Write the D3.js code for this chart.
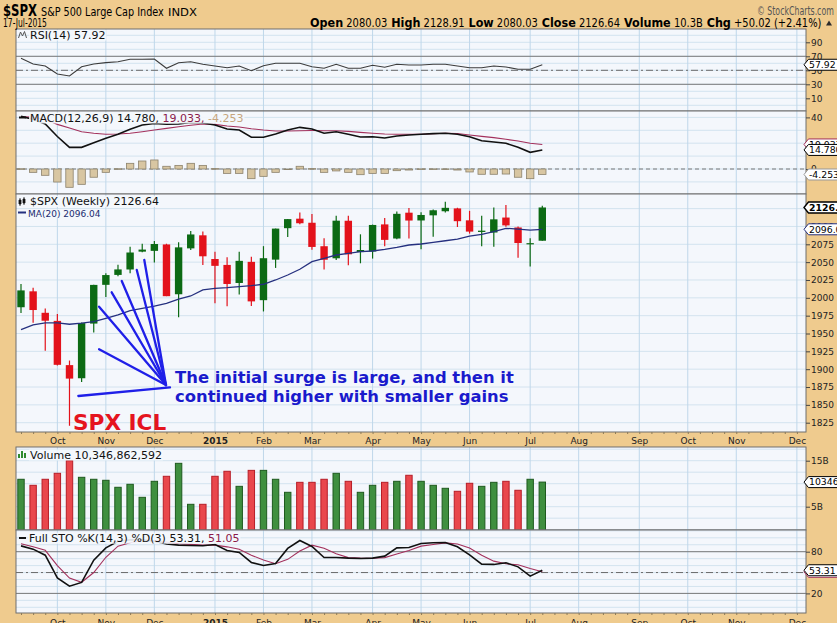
<!DOCTYPE html>
<html>
<head>
<meta charset="utf-8">
<script src="https://cdn.jsdelivr.net/npm/d3@7/dist/d3.min.js"></script>
<style>
html,body{margin:0;padding:0;background:#EFCB8E;}
svg{display:block;}
text{font-family:"DejaVu Sans",Verdana,sans-serif;}
</style>
</head>
<body>
<svg id="chart" width="837" height="623"></svg>
<script>
// ---------------- DATA (weekly, $SPX) ----------------
const weekEnding = ["2014-09-19","2014-09-26","2014-10-03","2014-10-10","2014-10-17","2014-10-24","2014-10-31","2014-11-07","2014-11-14","2014-11-21","2014-11-28","2014-12-05","2014-12-12","2014-12-19","2014-12-26","2015-01-02","2015-01-09","2015-01-16","2015-01-23","2015-01-30","2015-02-06","2015-02-13","2015-02-20","2015-02-27","2015-03-06","2015-03-13","2015-03-20","2015-03-27","2015-04-02","2015-04-10","2015-04-17","2015-04-24","2015-05-01","2015-05-08","2015-05-15","2015-05-22","2015-05-29","2015-06-05","2015-06-12","2015-06-19","2015-06-26","2015-07-02","2015-07-10","2015-07-17"];
const openPx  = [1986.8,2009.1,1979.0,1967.7,1905.7,1887.3,1963.9,2018.2,2032.1,2039.7,2064.7,2065.8,2074.8,2005.0,2069.3,2087.6,2054.4,2046.1,2020.8,2050.4,1996.7,2053.5,2097.6,2110.9,2105.2,2072.3,2055.4,2108.0,2064.1,2064.9,2102.9,2083.1,2119.3,2108.4,2115.6,2121.3,2125.3,2108.6,2092.3,2091.5,2112.5,2098.6,2075.0,2080.0];
const highPx  = [2019.3,2014.0,1985.2,1977.4,1912.1,1965.3,2018.2,2034.3,2046.2,2071.5,2075.8,2079.5,2075.8,2077.9,2093.6,2093.0,2064.4,2056.9,2064.6,2057.6,2072.4,2097.0,2110.6,2119.6,2117.5,2083.5,2114.9,2114.9,2089.0,2102.6,2111.9,2120.9,2125.9,2120.0,2123.9,2134.7,2126.2,2121.9,2115.0,2126.7,2130.0,2100.0,2083.4,2128.9];
const lowPx   = [1978.6,1965.0,1926.0,1905.0,1820.7,1882.0,1951.4,2001.0,2030.4,2034.5,2064.0,2049.6,2002.3,1972.6,2067.0,2046.0,1992.4,1988.1,2004.5,1988.5,1980.9,2041.9,2085.4,2103.0,2067.3,2039.7,2053.0,2045.8,2048.4,2055.0,2072.3,2082.0,2083.0,2067.9,2085.6,2119.5,2099.2,2090.0,2072.1,2071.6,2099.5,2056.3,2044.0,2080.0];
const closePx = [2010.4,1982.9,1967.9,1906.1,1886.8,1964.6,2018.1,2031.9,2039.8,2063.5,2067.6,2075.4,2002.3,2070.7,2088.8,2058.2,2044.8,2019.4,2051.8,1995.0,2055.5,2097.0,2110.3,2104.5,2071.3,2053.4,2108.1,2061.0,2067.0,2102.1,2081.2,2117.7,2108.3,2116.1,2122.7,2126.1,2107.4,2092.8,2094.1,2110.0,2101.5,2076.8,2076.6,2126.6];
const ma20    = [1955.5,1962.0,1965.0,1965.0,1963.0,1964.4,1966.5,1971.3,1976.0,1982.0,1985.3,1988.5,1992.3,1998.0,2002.6,2011.0,2013.3,2014.2,2015.6,2017.0,2019.0,2025.0,2032.0,2040.0,2050.6,2055.4,2060.0,2062.4,2064.6,2065.6,2068.0,2070.8,2074.0,2075.4,2077.8,2080.0,2082.4,2086.6,2089.0,2092.7,2097.4,2096.4,2095.0,2096.04];
const volumeB = [10.96,9.65,10.96,12.26,15.0,11.39,10.96,10.74,9.22,9.87,7.04,10.52,11.61,14.43,5.52,5.52,11.61,12.7,9.43,12.9,12.9,10.96,8.13,10.3,10.3,10.96,12.26,10.52,8.13,9.65,10.3,10.52,11.83,10.52,9.65,9.0,8.35,10.09,9.43,10.3,10.52,8.57,10.96,10.35];
const rsi14   = [67.1,59.0,56.1,44.7,41.9,55.1,59.0,60.9,62.3,65.7,65.7,66.1,52.9,60.9,62.3,58.6,56.1,53.7,56.1,49.4,56.6,60.0,60.0,60.0,55.1,52.9,58.6,52.9,52.9,57.1,54.3,58.6,57.6,57.6,58.6,58.6,56.1,53.7,53.7,56.1,54.7,51.4,51.4,57.92];
const macdLine   = [40.8,38.5,34.9,25.2,16.8,16.8,20.4,23.8,26.9,30.8,34.1,35.3,34.7,34.9,36.0,35.7,34.1,31.0,30.2,24.6,24.6,27.1,30.2,32.3,31.0,27.7,28.9,26.9,24.8,25.0,24.0,25.6,26.4,26.9,27.4,27.7,26.9,25.0,21.9,20.9,19.9,16.8,12.9,14.78];
const macdSignal = [40.5,40.2,38.5,34.6,31.8,28.9,27.7,26.9,27.1,27.7,28.9,30.2,31.5,32.8,33.9,34.9,34.6,33.3,32.6,31.2,30.2,29.5,29.5,29.7,29.8,29.7,29.7,29.2,28.4,27.7,27.1,26.9,26.9,26.9,27.3,27.7,27.5,26.4,25.3,24.3,23.0,21.7,19.9,19.033];
const macdHist   = [0.2,-2.6,-4.9,-10.1,-14.2,-11.9,-6.4,-2.6,0.2,4.4,6.2,7.0,2.1,2.8,4.4,2.8,0.3,-3.4,-3.4,-7.5,-5.7,-2.6,-0.3,2.1,0.3,-2.6,-1.5,-2.6,-4.4,-3.4,-3.4,-1.3,-0.8,0.1,0.1,0.1,-0.8,-2.3,-4.1,-4.1,-3.9,-6.4,-7.5,-4.253];
const stoK = [88.4,83.7,75.0,42.4,30.4,35.8,67.8,85.5,95.0,97.0,97.0,95.0,91.0,89.5,89.0,88.5,90.4,81.8,78.9,64.5,60.2,63.0,84.7,96.1,87.5,71.7,71.7,70.7,70.3,70.7,73.6,85.5,86.1,91.9,92.9,93.3,87.0,75.5,62.0,61.7,64.0,58.2,44.8,53.31];
const stoD = [91.5,87.0,82.0,60.0,42.0,36.0,50.0,72.0,88.0,93.0,96.0,96.0,94.0,91.5,90.5,89.5,89.5,87.0,83.5,75.0,68.0,62.6,69.0,81.0,89.4,85.0,77.0,71.5,70.8,70.5,71.5,76.6,81.7,88.0,90.3,92.7,91.1,85.3,74.8,66.4,62.6,61.3,55.7,51.05];

const monthLabels    = ["Oct","Nov","Dec","2015","Feb","Mar","Apr","May","Jun","Jul","Aug","Sep","Oct","Nov","Dec"];
const monthTickIndex = [3,7,11,16,20,24,29,33,37,42,46,51,55,59,64];
const rsiTicks   = [10,30,50,70,90];
const macdTicks  = [0,20,40];
const priceTicks = [1825,1850,1875,1900,1925,1950,1975,2000,2025,2050,2075,2100,2125];
const volTicks   = [5,10,15];
const stoTicks   = [20,50,80];

// annotation (in week-index / price space)
const annoHub    = [11.96,1877.8];
const annoSpokes = [[6.44,1987.6],[7.48,2007.7],[8.31,2023.6],[9.55,2039.0],[10.17,2053.0],[6.44,1927.9]];
const annoBase   = [[4.73,1862.4],[12.29,1874.6]];
const annoText   = ["The initial surge is large, and then it","continued higher with smaller gains"];

// ---------------- LAYOUT ----------------
const W=837,H=623,L=16,R=806;
const BG="#EFCB8E", PANEL="#F4F7FC", GRID="#D3E3EF", VGRID="#BFD7EA", BORDER="#6f6f6f";
const UP="#0C6A14", DN="#E3121B";
const svg=d3.select("#chart");
svg.append("rect").attr("width",W).attr("height",H).attr("fill",BG);
const defs=svg.append("defs");

const x=d3.scaleLinear().domain([0,43]).range([21,542.3]);
const bw=7.4;
const idx=d3.range(weekEnding.length);

const yR=d3.scaleLinear().domain([10,90]).range([98.3,42.3]);
const yM=d3.scaleLinear().domain([0,40]).range([169,117.4]);
const yP=d3.scaleLinear().domain([1825,2075]).range([422.7,244.3]);
const yV=d3.scaleLinear().domain([0,15]).range([529.7,460.7]);
const yS=d3.scaleLinear().domain([20,80]).range([593.4,551.7]);

function panel(id,top,bottom,y,grid){
  const g=svg.append("g");
  g.append("rect").attr("x",L).attr("y",top).attr("width",R-L).attr("height",bottom-top).attr("fill",PANEL);
  defs.append("clipPath").attr("id","clip-"+id).append("rect").attr("x",L).attr("y",top).attr("width",R-L).attr("height",bottom-top);
  const inner=g.append("g").attr("clip-path",`url(#clip-${id})`);
  inner.selectAll(null).data(grid).join("line")
    .attr("x1",L).attr("x2",R).attr("y1",d=>y(d)).attr("y2",d=>y(d))
    .attr("stroke",GRID).attr("stroke-width",1);
  inner.selectAll(null).data(monthTickIndex).join("line")
    .attr("x1",d=>x(d)).attr("x2",d=>x(d)).attr("y1",top).attr("y2",bottom)
    .attr("stroke",VGRID).attr("stroke-width",1);
  return {g,inner,top,bottom,y};
}
function border(p){
  p.g.append("rect").attr("x",L).attr("y",p.top).attr("width",R-L).attr("height",p.bottom-p.top)
   .attr("fill","none").attr("stroke",BORDER).attr("stroke-width",1);
}
function hline(p,v,color,dash){
  p.inner.append("line").attr("x1",L).attr("x2",R).attr("y1",p.y(v)).attr("y2",p.y(v))
   .attr("stroke",color).attr("stroke-width",1).attr("stroke-dasharray",dash||null);
}
function rightAxis(p,ticks,fmt){
  const ax=d3.axisRight(p.y).tickValues(ticks).tickSize(4).tickPadding(1).tickFormat(fmt||(d=>d));
  const g=svg.append("g").attr("transform",`translate(${R},0)`).call(ax);
  g.select(".domain").remove();
  g.selectAll("line").attr("stroke","#444");
  g.selectAll("text").attr("font-size",9).attr("fill","#222").attr("font-family","DejaVu Sans");
}
function tag(y,txt,stroke,bold){
  const g=svg.append("g");
  g.append("path").attr("d",`M804,${y} L808.5,${y-5.5} L840,${y-5.5} L840,${y+5.5} L808.5,${y+5.5} Z`)
   .attr("fill","#fff").attr("stroke",stroke).attr("stroke-width",bold?1.4:1);
  g.append("text").attr("x",809).attr("y",y+3.3).attr("font-size",9.3).attr("font-weight",bold?"bold":"normal")
   .attr("fill","#000").text(txt);
}
function label(p,xx,yy,parts,size){
  const t=p.g.append("text").attr("x",xx).attr("y",yy).attr("font-size",size||11);
  parts.forEach(q=>t.append("tspan").attr("fill",q[1]).text(q[0]));
  const bb=t.node().getBBox();
  p.g.insert("rect",()=>t.node()).attr("x",bb.x-1).attr("y",bb.y+1).attr("width",bb.width+2).attr("height",bb.height-2)
   .attr("fill",PANEL).attr("opacity",0.9);
  return t;
}

// ---------------- RSI ----------------
const pR=panel("rsi",29,111,yR,d3.range(-10,111,10));
hline(pR,70,"#7a7a7a"); hline(pR,30,"#7a7a7a"); hline(pR,50,"#6a6a6a","7,3,2,3");
pR.inner.append("path").datum(idx).attr("fill","none").attr("stroke","#3c3c3c").attr("stroke-width",1.1)
  .attr("d",d3.line().x(i=>x(i)).y(i=>yR(rsi14[i])));
label(pR,30,38.5,[["RSI(14) 57.92","#111"]]);
pR.g.append("path").attr("d","M18.5,38 L20.5,32 L22.5,36 L24.5,31.5 L26.5,38").attr("fill","none").attr("stroke","#555").attr("stroke-width",1);
border(pR);

// ---------------- MACD ----------------
const pM=panel("macd",111,194,yM,d3.range(-30,51,10));
hline(pM,0,"#777","4,3");
pM.inner.selectAll(null).data(idx).join("rect")
  .attr("x",i=>x(i)-bw/2).attr("width",bw)
  .attr("y",i=>Math.min(yM(0),yM(macdHist[i]))).attr("height",i=>Math.max(0.6,Math.abs(yM(macdHist[i])-yM(0))))
  .attr("fill","#D8C6A2").attr("stroke","#8c826c").attr("stroke-width",0.8);
pM.inner.append("path").datum(idx).attr("fill","none").attr("stroke","#A3305C").attr("stroke-width",1.1)
  .attr("d",d3.line().x(i=>x(i)).y(i=>yM(macdSignal[i])));
pM.inner.append("path").datum(idx).attr("fill","none").attr("stroke","#111").attr("stroke-width",1.6)
  .attr("d",d3.line().x(i=>x(i)).y(i=>yM(macdLine[i])));
label(pM,30,121.5,[["MACD(12,26,9) 14.780, ","#111"],["19.033, ","#8B1A4A"],["-4.253","#C6A57E"]]);
pM.g.append("line").attr("x1",19).attr("x2",26).attr("y1",117.5).attr("y2",117.5).attr("stroke","#111").attr("stroke-width",2);
border(pM);

// ---------------- PRICE ----------------
const pP=panel("price",194,432,yP,d3.range(1800,2151,25));
pP.inner.selectAll(null).data(idx).join("line")
  .attr("x1",i=>x(i)).attr("x2",i=>x(i)).attr("y1",i=>yP(highPx[i])).attr("y2",i=>yP(lowPx[i]))
  .attr("stroke",i=>closePx[i]>=openPx[i]?UP:DN).attr("stroke-width",1.2);
pP.inner.selectAll(null).data(idx).join("rect")
  .attr("x",i=>x(i)-bw/2).attr("width",bw)
  .attr("y",i=>yP(Math.max(openPx[i],closePx[i])))
  .attr("height",i=>Math.max(1.2,Math.abs(yP(openPx[i])-yP(closePx[i]))))
  .attr("fill",i=>closePx[i]>=openPx[i]?UP:DN);
pP.inner.append("path").datum(idx).attr("fill","none").attr("stroke","#25307F").attr("stroke-width",1.3)
  .attr("d",d3.line().x(i=>x(i)).y(i=>yP(ma20[i])));
// annotation
const annoG=pP.g.append("g");
annoSpokes.forEach(s=>annoG.append("line").attr("x1",x(s[0])).attr("y1",yP(s[1])).attr("x2",x(annoHub[0])).attr("y2",yP(annoHub[1]))
  .attr("stroke","#1F1FE8").attr("stroke-width",2.3).attr("stroke-linecap","round"));
annoG.append("line").attr("x1",x(annoBase[0][0])).attr("y1",yP(annoBase[0][1])).attr("x2",x(annoBase[1][0])).attr("y2",yP(annoBase[1][1]))
  .attr("stroke","#1F1FE8").attr("stroke-width",2.3).attr("stroke-linecap","round");
annoG.selectAll(null).data(annoText).join("text")
  .attr("x",x(12.71)).attr("y",(d,i)=>yP(i===0?1881.3:1853.6))
  .attr("font-family","Liberation Sans, Arial, sans-serif").attr("font-weight","bold").attr("font-size",16.4)
  .attr("fill","#1A1ACC").text(d=>d);
annoG.append("text").attr("x",x(4.29)).attr("y",yP(1814.8))
  .attr("font-family","Liberation Sans, Arial, sans-serif").attr("font-weight","bold").attr("font-size",21.6)
  .attr("fill","#E5141E").text("SPX ICL");
label(pP,30,205,[["$SPX (Weekly) 2126.64","#111"]],11);
label(pP,28,216.5,[["MA(20) 2096.04","#1a2a70"]],9);
pP.g.append("path").attr("d","M20,198 L20,206 M19,200 L21,200 L21,204 L19,204 Z M24,197 L24,205 M23,199 L25,199 L25,203 L23,203 Z")
  .attr("fill","#111").attr("stroke","#111").attr("stroke-width",0.8);
pP.g.append("line").attr("x1",18).attr("x2",26).attr("y1",212.5).attr("y2",212.5).attr("stroke","#25307F").attr("stroke-width",2);
border(pP);

// ---------------- VOLUME ----------------
const pV=panel("vol",447,530,yV,d3.range(0,20,2.5));
pV.inner.selectAll(null).data(idx).join("rect")
  .attr("x",i=>x(i)-bw/2+0.5).attr("width",bw-1)
  .attr("y",i=>yV(volumeB[i])).attr("height",i=>yV(0)-yV(volumeB[i])+2)
  .attr("fill",i=>closePx[i]>=openPx[i]?"#3F8F3F":"#E9474C")
  .attr("stroke",i=>closePx[i]>=openPx[i]?"#1E5A1E":"#B71D27").attr("stroke-width",1);
label(pV,30,458.5,[["Volume 10,346,862,592","#111"]]);
pV.g.append("path").attr("d","M18,458 h2 v-4 h-2 Z M21,458 h2 v-7 h-2 Z M24,458 h2 v-5 h-2 Z").attr("fill","#2f8a2f");
border(pV);

// ---------------- STO ----------------
const pS=panel("sto",530,613,yS,d3.range(-10,121,10));
hline(pS,80,"#7a7a7a"); hline(pS,20,"#7a7a7a"); hline(pS,50,"#6a6a6a","7,3,2,3");
pS.inner.append("path").datum(idx).attr("fill","none").attr("stroke","#A3305C").attr("stroke-width",1.1)
  .attr("d",d3.line().x(i=>x(i)).y(i=>yS(stoD[i])));
pS.inner.append("path").datum(idx).attr("fill","none").attr("stroke","#111").attr("stroke-width",1.6)
  .attr("d",d3.line().x(i=>x(i)).y(i=>yS(stoK[i])));
label(pS,29,541.7,[["Full STO %K(14,3) %D(3) 53.31, ","#111"],["51.05","#8B1A4A"]]);
pS.g.append("line").attr("x1",19).attr("x2",26).attr("y1",538).attr("y2",538).attr("stroke","#111").attr("stroke-width",2);
border(pS);

// ---------------- X AXES ----------------
function monthAxis(yTop,baseline){
  const ax=d3.axisBottom(x).tickValues(monthTickIndex).tickSize(0).tickPadding(0)
    .tickFormat((d,i)=>monthLabels[i]);
  const g=svg.append("g").attr("transform",`translate(0,${baseline-8})`).call(ax);
  g.select(".domain").remove();
  g.selectAll("text").attr("font-size",9).attr("fill","#222").attr("dy",0).attr("y",8)
    .attr("font-weight",(d,i)=>monthLabels[i]==="2015"?"bold":"normal");
  const minor=d3.range(-1,65);
  const g2=svg.append("g").attr("transform",`translate(0,${yTop})`)
    .call(d3.axisBottom(x).tickValues(minor.filter(v=>x(v)>L&&x(v)<R)).tickSize(2).tickFormat(""));
  g2.select(".domain").remove(); g2.selectAll("line").attr("stroke","#8a7a5a");
}
monthAxis(432,444);
monthAxis(613,625.5);

// ---------------- RIGHT AXES ----------------
rightAxis(pR,rsiTicks);
rightAxis(pM,macdTicks);
rightAxis(pP,priceTicks);
rightAxis(pV,volTicks,d=>d+"B");
rightAxis(pS,stoTicks);

tag(yR(57.92),"57.92","#000");
tag(yM(19.033),"19.033","#A3305C");
tag(yM(14.78),"14.780","#000");
tag(yM(-4.253),"-4.253","#999");
tag(yP(2096.04),"2096.04","#25307F");
tag(yP(2126.64),"2126.64","#000",true);
tag(yV(10.3469),"10346862592","#000");
tag(yS(51.05),"51.05","#A3305C");
tag(yS(53.31),"53.31","#000");

// ---------------- HEADER (condensed by horizontal scaling) ----------------
const SANS="Liberation Sans, Arial, sans-serif";
function fitText(x0,y0,width,anchorEnd,build){
  const g=svg.append("g");
  const t=g.append("text").attr("x",0).attr("y",0).attr("font-family",SANS);
  build(t);
  const w=t.node().getComputedTextLength();
  const s=width/w;
  g.attr("transform",`translate(${anchorEnd?x0-width:x0},${y0}) scale(${s},1)`);
  return g;
}
fitText(3,15.5,34,false,t=>t.append("tspan").attr("font-size",16).attr("font-weight","bold").text("$SPX"));
fitText(41,15.5,123,false,t=>t.append("tspan").attr("font-size",12.5).text("S&P 500 Large Cap Index"));
fitText(168,15.5,29,false,t=>t.append("tspan").attr("font-size",10.5).text("INDX"));
fitText(3,26.5,44,false,t=>t.append("tspan").attr("font-size",12).text("17-Jul-2015"));
fitText(834,15,77,true,t=>t.append("tspan").attr("font-size",11.5).attr("fill","#555").text("© StockCharts.com"));
const quote=[["Open","2080.03"],["High","2128.91"],["Low","2080.03"],["Close","2126.64"],["Volume","10.3B"],["Chg","+50.02 (+2.41%)"]];
fitText(822,26.5,512,true,t=>{
  quote.forEach((q,k)=>{
    t.append("tspan").attr("font-size",13).attr("font-weight","bold").text((k?"  ":"")+q[0]);
    t.append("tspan").attr("font-size",11.5).text(" "+q[1]);
  });
});
svg.append("path").attr("d","M826,25.5 L832,25.5 L829,20.5 Z").attr("fill","#2b2b2b");
</script>
</body>
</html>
